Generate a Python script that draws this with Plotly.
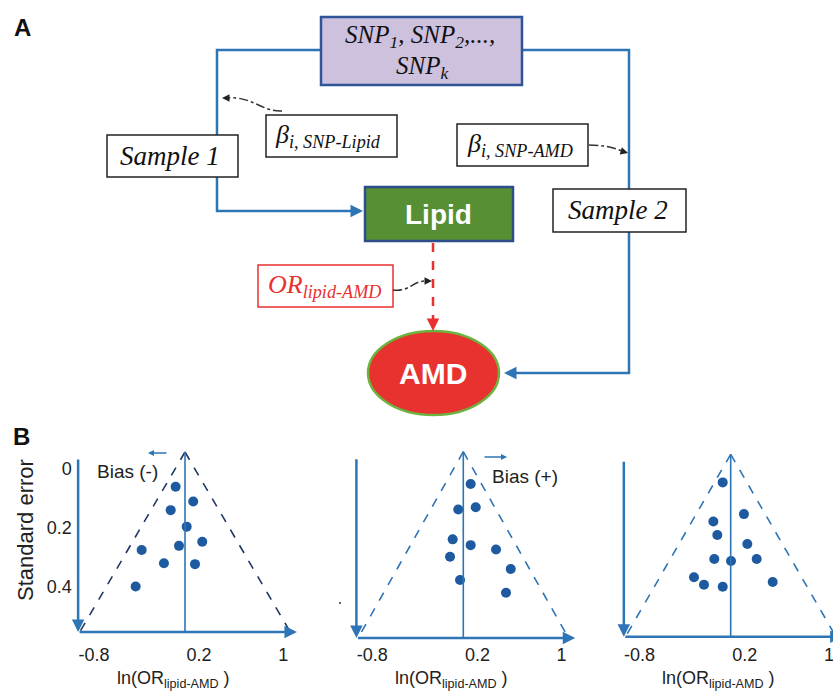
import plotly.graph_objects as go

W, H = 833, 694

# ---------------- data ----------------
# Panel B funnel plots: ln(OR lipid-AMD) vs standard error
p1_lnor = [-0.023, 0.144, -0.070, 0.082, 0.230, 0.009, -0.346, -0.134, 0.161, -0.403]
p1_se = [0.063, 0.113, 0.142, 0.198, 0.249, 0.263, 0.277, 0.322, 0.325, 0.401]

p2_lnor = [0.136, 0.018, 0.184, -0.035, 0.136, 0.377, -0.060, 0.517, 0.035, 0.472]
p2_se = [0.051, 0.134, 0.127, 0.232, 0.251, 0.265, 0.289, 0.329, 0.365, 0.407]

p3_lnor = [-0.010, 0.192, -0.099, -0.061, 0.224, -0.090, 0.069, 0.313, -0.283, -0.188, -0.010, 0.465]
p3_se = [0.039, 0.145, 0.170, 0.215, 0.245, 0.295, 0.302, 0.295, 0.356, 0.381, 0.388, 0.372]

x_tick_vals = [-0.8, 0.2, 1]
x_tick_text = ["-0.8", "0.2", "1"]
y_tick_vals = [0, 0.2, 0.4]
y_tick_text = ["0", "0.2", "0.4"]

# schematic funnel geometry (data units)
APEX_X, APEX_SE = 0.066, -0.055
BASE_SE = 0.555
HALF = 1.0
XMIN, YMIN = -1.0, -0.1

BLUE = "#2e75b6"
DOT = "#1d5aa0"
SANS = "Liberation Sans, Arial, sans-serif"
SERIF = "Liberation Serif, Times New Roman, serif"


def X(px):
    return px / W


def Y(py):
    return 1 - py / H


def P(px, py):
    return f"{X(px):.5f},{Y(py):.5f}"


panels = [
    dict(n=1, apx=185.0, apy=452.0, sx=105.2, sy=295.1, ymax=0.589, xmax=1.15,
         x=p1_lnor, y=p1_se, tri="#1f3864", yt=True),
    dict(n=2, apx=463.3, apy=451.7, sx=105.2, sy=305.4, ymax=0.568, xmax=1.15,
         x=p2_lnor, y=p2_se, tri=BLUE, yt=False),
    dict(n=3, apx=730.7, apy=454.3, sx=105.2, sy=299.0, ymax=0.573, xmax=None,
         x=p3_lnor, y=p3_se, tri=BLUE, yt=False),
]

fig = go.Figure()
shapes = []
annotations = []
layout_axes = {}


def text_ann(cx, cy, text, size, color="#111", family=SANS, angle=0):
    annotations.append(dict(xref="paper", yref="paper", x=X(cx), y=Y(cy), text=text,
                            showarrow=False, xanchor="center", yanchor="middle",
                            textangle=angle,
                            font=dict(family=family, size=size, color=color)))


def arrow_px(hx, hy, ax, ay, color, width, size=1.0):
    annotations.append(dict(xref="paper", yref="paper", x=X(hx), y=Y(hy), ax=ax, ay=ay,
                            text="", showarrow=True, arrowhead=2, arrowsize=size,
                            arrowwidth=width, arrowcolor=color))


for p in panels:
    n = p["n"]
    xmax = p["xmax"] if p["xmax"] is not None else APEX_X + (W - p["apx"]) / p["sx"]
    x0 = p["apx"] + (XMIN - APEX_X) * p["sx"]
    x1 = min(W, p["apx"] + (xmax - APEX_X) * p["sx"])
    ytop = p["apy"] + (YMIN - APEX_SE) * p["sy"]
    ybot = p["apy"] + (p["ymax"] - APEX_SE) * p["sy"]
    xa = "xaxis" if n == 1 else f"xaxis{n}"
    ya = "yaxis" if n == 1 else f"yaxis{n}"
    xr = "x" if n == 1 else f"x{n}"
    yr = "y" if n == 1 else f"y{n}"
    layout_axes[xa] = dict(domain=[X(x0), X(x1)], range=[XMIN, xmax], anchor=yr,
                           showgrid=False, zeroline=False, showline=False, ticks="",
                           tickvals=x_tick_vals, ticktext=x_tick_text,
                           ticklabeloverflow="allow",
                           tickfont=dict(family=SANS, size=18, color="#222"))
    layout_axes[ya] = dict(domain=[Y(ybot), Y(ytop)], range=[p["ymax"], YMIN], anchor=xr,
                           showgrid=False, zeroline=False, showline=False, ticks="",
                           tickvals=y_tick_vals, ticktext=y_tick_text,
                           showticklabels=p["yt"],
                           tickfont=dict(family=SANS, size=18, color="#222"))
    # dashed triangle sides
    for sx_ in (-1, 1):
        shapes.append(dict(type="line", xref=xr, yref=yr, x0=APEX_X, y0=APEX_SE,
                           x1=APEX_X + sx_ * HALF, y1=BASE_SE,
                           line=dict(color=p["tri"], width=1.6, dash="dash")))
    # centre line
    shapes.append(dict(type="line", xref=xr, yref=yr, x0=APEX_X, y0=APEX_SE,
                       x1=APEX_X, y1=BASE_SE, line=dict(color=BLUE, width=1.6)))
    # axes with arrows
    annotations.append(dict(xref=xr, yref=yr, axref=xr, ayref=yr, x=XMIN + 0.05, y=BASE_SE,
                            ax=XMIN + 0.05, ay=-0.035, text="", showarrow=True,
                            arrowhead=2, arrowsize=1, arrowwidth=2.5, arrowcolor=BLUE))
    annotations.append(dict(xref=xr, yref=yr, axref=xr, ayref=yr, x=1.13, y=BASE_SE,
                            ax=XMIN + 0.05, ay=BASE_SE, text="", showarrow=True,
                            arrowhead=2, arrowsize=1, arrowwidth=2.5, arrowcolor=BLUE))
    fig.add_trace(go.Scatter(x=p["x"], y=p["y"], mode="markers", xaxis=xr, yaxis=yr,
                             marker=dict(color=DOT, size=10), hoverinfo="skip"))
    # x axis label
    text_ann(p["apx"] - 12, 679, "ln(OR<sub>lipid-AMD</sub> )", 18, color="#222")

# Bias labels, axis title, panel letters
text_ann(128, 471, "Bias (-)", 19, color="#222")
arrow_px(148, 453, 20, 0, BLUE, 1.5, 0.8)
text_ann(525, 477, "Bias (+)", 19, color="#222")
arrow_px(507, 457, -24, 0, BLUE, 1.5, 0.8)
text_ann(25, 530, "Standard error", 22, color="#222", angle=-90)
text_ann(22, 27, "<b>A</b>", 24)
text_ann(21, 436, "<b>B</b>", 24)

# small stray dot
shapes.append(dict(type="circle", xref="paper", yref="paper", x0=X(339), x1=X(341),
                   y0=Y(604), y1=Y(602), fillcolor="#333", line=dict(width=0)))

# ---------------- panel A diagram ----------------
shapes.append(dict(type="path", xref="paper", yref="paper",
                   path=f"M {P(321,50)} L {P(217,50)} L {P(217,211)} L {P(356,211)}",
                   line=dict(color=BLUE, width=2.5)))
shapes.append(dict(type="path", xref="paper", yref="paper",
                   path=f"M {P(522,50)} L {P(629,50)} L {P(629,373)} L {P(512,373)}",
                   line=dict(color=BLUE, width=2.5)))
arrow_px(363, 211, -12, 0, BLUE, 2.5)
arrow_px(504, 373, 12, 0, BLUE, 2.5)


def box(x0, y0, x1, y1, fill="white", color="#222", width=1.5, kind="rect"):
    shapes.append(dict(type=kind, xref="paper", yref="paper", x0=X(x0), x1=X(x1),
                       y0=Y(y1), y1=Y(y0), fillcolor=fill, line=dict(color=color, width=width)))


box(321, 17, 522, 85, fill="#cdc1de", color="#2f5597", width=2.5)
text_ann(420, 36, "<i>SNP<sub>1</sub>, SNP<sub>2</sub>,...,</i>", 25, family=SERIF)
text_ann(423, 68, "<i>SNP<sub>k</sub></i>", 25, family=SERIF)

box(107, 135, 238, 177)
text_ann(170, 156, "<i>Sample 1</i>", 27, family=SERIF)
box(266, 115, 397, 157)
text_ann(328, 136, "<i>β<sub>i, SNP-Lipid</sub></i>", 26, family=SERIF)
box(457, 124, 588, 166)
text_ann(520, 145, "<i>β<sub>i, SNP-AMD</sub></i>", 26, family=SERIF)
box(553, 189, 686, 232)
text_ann(618, 210, "<i>Sample 2</i>", 27, family=SERIF)

box(365, 187, 513, 241, fill="#578f35", color="#2d4e8a", width=2.5)
text_ann(439, 214, "<b>Lipid</b>", 28, color="white")

# red dashed arrow
shapes.append(dict(type="line", xref="paper", yref="paper", x0=X(433), y0=Y(243),
                   x1=X(433), y1=Y(320), line=dict(color="#e8312f", width=2.5, dash="dash")))
arrow_px(433, 331, 0, -12, "#e8312f", 2.5)

box(258, 265, 393, 307, color="#e8312f", width=1.5)
text_ann(324, 286, "<i>OR<sub>lipid-AMD</sub></i>", 26, color="#e8312f", family=SERIF)

box(368, 331, 499, 415, fill="#e8322f", color="#6cb33f", width=2.5, kind="circle")
text_ann(433, 373, "<b>AMD</b>", 30, color="white")

# dash-dot curved pointers
for path in [f"M {P(282,111)} C {P(262,112)} {P(252,96)} {P(228,98)}",
             f"M {P(589,145)} Q {P(608,145)} {P(622,151)}",
             f"M {P(393,290)} C {P(410,292)} {P(412,281)} {P(426,281)}"]:
    shapes.append(dict(type="path", xref="paper", yref="paper", path=path,
                       line=dict(color="#333", width=1.5, dash="dashdot")))
for hx, hy, ax, ay in [(222, 98, 7, 0), (628, 153, -7, -2), (432, 281, -7, 0)]:
    arrow_px(hx, hy, ax, ay, "#222", 1.5)

fig.update_layout(width=W, height=H, margin=dict(l=0, r=0, t=0, b=0),
                  paper_bgcolor="white", plot_bgcolor="white", showlegend=False,
                  shapes=shapes, annotations=annotations, **layout_axes)

fig.write_html("out.html", config={"displayModeBar": False},
               post_script="document.body.style.margin='0';document.body.style.overflow='hidden';")
